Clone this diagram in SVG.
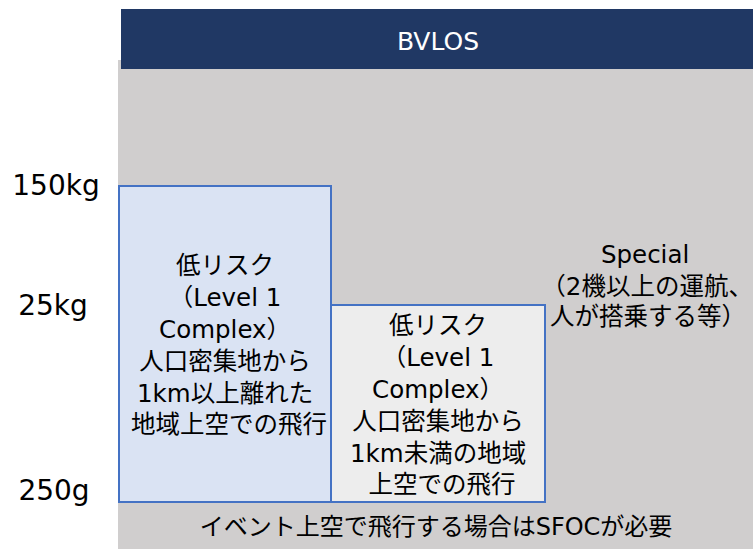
<svg xmlns="http://www.w3.org/2000/svg" width="753" height="549" viewBox="0 0 753 549">
<style>
.t{font-family:"DejaVu Sans","Noto Sans CJK JP",sans-serif;fill:#000;text-anchor:middle}
.box{font-size:24.5px}
.lbl{font-size:28px}
.node{stroke:#4472C4;stroke-width:2}
</style>
<rect width="753" height="549" fill="#FFFFFF"/>
<g id="background">
<rect x="118" y="60" width="635" height="489" fill="#D0CECE"/>
</g>
<g id="header">
<rect x="121" y="9" width="632" height="60" fill="#203864"/>
<text class="t" x="438" y="50" font-size="25" style="fill:#FFFFFF">BVLOS</text>
</g>
<g id="axis-labels">
<text class="t lbl" x="56" y="195">150kg</text>
<text class="t lbl" x="53" y="315">25kg</text>
<text class="t lbl" x="54" y="500">250g</text>
</g>
<g id="box-low-risk-1km-plus">
<rect class="node" x="119" y="186" width="212" height="316" fill="#DAE3F3"/>
<text class="t box">
<tspan x="229" y="274">低リスク</tspan>
<tspan x="229" y="306">（Level 1</tspan>
<tspan x="229" y="338">Complex）</tspan>
<tspan x="229" y="370">人口密集地から</tspan>
<tspan x="229" y="402">1km以上離れた</tspan>
<tspan x="229" y="433">地域上空での飛行</tspan>
</text>
</g>
<g id="box-low-risk-under-1km">
<rect class="node" x="331" y="305" width="214" height="197" fill="#EDEDED"/>
<text class="t box">
<tspan x="442" y="334">低リスク</tspan>
<tspan x="442" y="366">（Level 1</tspan>
<tspan x="442" y="398">Complex）</tspan>
<tspan x="442" y="430">人口密集地から</tspan>
<tspan x="442" y="462">1km未満の地域</tspan>
<tspan x="442" y="493">上空での飛行</tspan>
</text>
</g>
<g id="special">
<text class="t box">
<tspan x="649" y="263">Special</tspan>
<tspan x="651" y="295">（2機以上の運航、</tspan>
<tspan x="648" y="325">人が搭乗する等）</tspan>
</text>
</g>
<g id="footer-note">
<text class="t" x="436" y="535" font-size="24">イベント上空で飛行する場合はSFOCが必要</text>
</g>
<g id="connectors"></g>
</svg>
